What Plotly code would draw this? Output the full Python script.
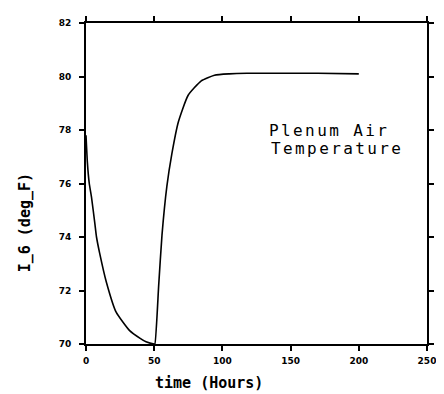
import plotly.graph_objects as go

# Plenum air temperature
time_h = [0, 1, 2.4, 4, 6.5, 7.7, 10, 15, 22, 32, 40, 44, 50,
          50.5, 53.3, 55.7, 59.3, 62.9, 67.7, 74.9, 84.5, 94.2, 105, 118, 140, 170, 200]
temp_f = [77.8, 76.8, 76.0, 75.5, 74.5, 74.0, 73.4, 72.3, 71.2, 70.5, 70.2, 70.08, 70.0,
          70.0, 72.2, 74.06, 75.9, 77.1, 78.3, 79.3, 79.84, 80.05, 80.1, 80.12, 80.12, 80.12, 80.1]

x_ticks = [0, 50, 100, 150, 200, 250]
y_ticks = [70, 72, 74, 76, 78, 80, 82]

fig = go.Figure()
fig.add_trace(go.Scatter(x=time_h, y=temp_f, mode="lines",
                         line=dict(color="black", width=1.6, shape="spline", smoothing=0.5),
                         cliponaxis=False, showlegend=False))

tickfont = dict(family="DejaVu Sans", size=9, color="black", weight="bold")
axis_common = dict(showline=True, linecolor="black", linewidth=2, mirror="ticks", ticks="outside",
                   ticklen=5, tickwidth=1.5, tickcolor="black", showgrid=False, zeroline=False,
                   tickfont=tickfont)

fig.update_xaxes(range=[0, 250], tickvals=x_ticks, ticktext=[str(v) for v in x_ticks],
                 ticklabelstandoff=2, **axis_common)
fig.update_yaxes(range=[70, 82], tickvals=y_ticks, ticktext=[str(v) for v in y_ticks],
                 ticklabelstandoff=6, **axis_common)

title_font = dict(family="DejaVu Sans Mono", size=15, color="black", weight="bold")
fig.add_annotation(x=0.36, y=-0.122, xref="paper", yref="paper", showarrow=False,
                   text="time (Hours)", xanchor="center", yanchor="middle", font=title_font)
fig.add_annotation(x=-0.180, y=0.378, xref="paper", yref="paper", showarrow=False,
                   text="I_6 (deg_F)", textangle=-90, xanchor="center", yanchor="middle",
                   font=dict(family="DejaVu Sans Mono", size=15, color="black", weight="bold"))

label_font = dict(family="DejaVu Sans Mono", size=16, color="black")
fig.add_annotation(x=0.712, y=0.666, xref="paper", yref="paper", showarrow=False, borderpad=0,
                   text='<span style="letter-spacing:2.4px">Plenum Air</span>',
                   xanchor="center", yanchor="middle", font=label_font)
fig.add_annotation(x=0.736, y=0.61, xref="paper", yref="paper", showarrow=False, borderpad=0,
                   text='<span style="letter-spacing:2.4px">Temperature</span>',
                   xanchor="center", yanchor="middle", font=label_font)

# the page body has an 8px default margin, so the figure is shrunk by 8px
fig.update_layout(width=436, height=386, margin=dict(l=78, r=14, t=8, b=50),
                  paper_bgcolor="white", plot_bgcolor="white")

fig.write_html("out.html")
